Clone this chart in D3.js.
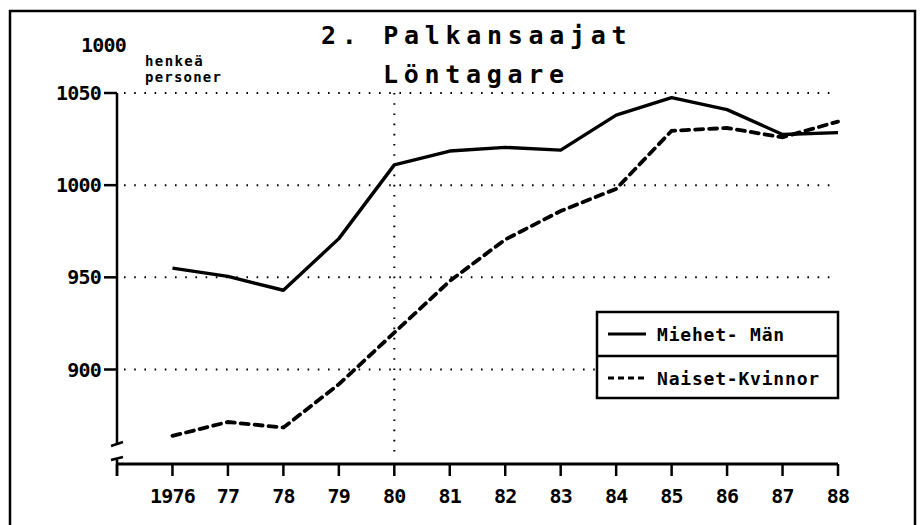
<!DOCTYPE html>
<html>
<head>
<meta charset="utf-8">
<script src="https://cdn.jsdelivr.net/npm/d3@7"></script>
<style>
  body { margin: 0; background: #fff; }
  svg text { font-family: "DejaVu Sans Mono", monospace; fill: #000; }
</style>
</head>
<body>
<div id="container"></div>
<script>
// values (1000 persons)
var years = [1976, 1977, 1978, 1979, 1980, 1981, 1982, 1983, 1984, 1985, 1986, 1987, 1988];
var men   = [955, 950.5, 943, 971, 1011, 1018.5, 1020.5, 1019, 1038, 1047.5, 1041, 1027.5, 1028.5];
var women = [864, 871.5, 868.5, 892, 920, 948, 970.5, 986, 998, 1029.5, 1031, 1026, 1034.5];
var xTickYears = [1975, 1976, 1977, 1978, 1979, 1980, 1981, 1982, 1983, 1984, 1985, 1986, 1987, 1988];
var xTickLabels = ["", "1976", "77", "78", "79", "80", "81", "82", "83", "84", "85", "86", "87", "88"];
var yTicks = [900, 950, 1000, 1050];
var legendLabels = ["Miehet- Män", "Naiset-Kvinnor"];

var W = 921, H = 525;
var svg = d3.select("#container").append("svg")
  .attr("width", W).attr("height", H);

var x = d3.scaleLinear().domain([1975, 1988]).range([117, 838]);
var y = d3.scaleLinear().domain([900, 1050]).range([369.5, 93]);
var axisY = 464;

// outer frame
svg.append("path")
  .attr("d", "M10,530 L10,11 L915,11 L915,530")
  .attr("fill", "none").attr("stroke", "#000").attr("stroke-width", 2.5);

// dotted grid
svg.selectAll("line.grid").data(yTicks).enter().append("line")
  .attr("class", "grid")
  .attr("x1", 124).attr("x2", x(1988))
  .attr("y1", function(d) { return y(d); }).attr("y2", function(d) { return y(d); })
  .attr("stroke", "#000").attr("stroke-width", 2)
  .attr("stroke-dasharray", "1.6,8.6");
svg.append("line")
  .attr("x1", x(1980)).attr("x2", x(1980))
  .attr("y1", y(1050)).attr("y2", axisY - 8)
  .attr("stroke", "#000").attr("stroke-width", 2)
  .attr("stroke-dasharray", "1.6,8.6");

// y axis with break
svg.append("line")
  .attr("x1", x(1975)).attr("x2", x(1975))
  .attr("y1", y(1050)).attr("y2", 443)
  .attr("stroke", "#000").attr("stroke-width", 2.5);
svg.append("path")
  .attr("d", "M111,446 L123,442")
  .attr("stroke", "#000").attr("stroke-width", 2.5).attr("fill", "none");
svg.append("path")
  .attr("d", "M111,460 L123,457 M117,458 L117,476")
  .attr("stroke", "#000").attr("stroke-width", 2.5).attr("fill", "none");
svg.selectAll("line.ytick").data(yTicks).enter().append("line")
  .attr("class", "ytick")
  .attr("x1", 104).attr("x2", x(1975))
  .attr("y1", function(d) { return y(d); }).attr("y2", function(d) { return y(d); })
  .attr("stroke", "#000").attr("stroke-width", 2.5);
svg.selectAll("text.ylab").data(yTicks).enter().append("text")
  .attr("class", "ylab")
  .attr("x", 101).attr("y", function(d) { return y(d) + 7; })
  .attr("text-anchor", "end")
  .attr("font-size", 20).attr("font-weight", "bold").attr("letter-spacing", -0.8)
  .text(function(d) { return d; });

// x axis
svg.append("line")
  .attr("x1", x(1975)).attr("x2", x(1988))
  .attr("y1", axisY).attr("y2", axisY)
  .attr("stroke", "#000").attr("stroke-width", 3);
svg.selectAll("line.xtick").data(xTickYears).enter().append("line")
  .attr("class", "xtick")
  .attr("x1", function(d) { return x(d); }).attr("x2", function(d) { return x(d); })
  .attr("y1", axisY).attr("y2", axisY + 12)
  .attr("stroke", "#000").attr("stroke-width", 2.5);
svg.selectAll("text.xlab").data(xTickYears).enter().append("text")
  .attr("class", "xlab")
  .attr("x", function(d) { return x(d); }).attr("y", 503)
  .attr("text-anchor", "middle")
  .attr("font-size", 20).attr("font-weight", "bold").attr("letter-spacing", -0.8)
  .text(function(d, i) { return xTickLabels[i]; });

// series
var line = d3.line()
  .x(function(d) { return x(d[0]); })
  .y(function(d) { return y(d[1]); });
svg.append("path")
  .datum(d3.zip(years, women))
  .attr("d", line)
  .attr("fill", "none").attr("stroke", "#000").attr("stroke-width", 3.8)
  .attr("stroke-dasharray", "8,6").attr("stroke-linecap", "round");
svg.append("path")
  .datum(d3.zip(years, men))
  .attr("d", line)
  .attr("fill", "none").attr("stroke", "#000").attr("stroke-width", 3.4)
  .attr("stroke-linejoin", "round");

// titles
svg.append("text").attr("x", 321).attr("y", 44)
  .attr("font-size", 25).attr("font-weight", "bold").attr("letter-spacing", 5.7)
  .text("2. Palkansaajat");
svg.append("text").attr("x", 383).attr("y", 83)
  .attr("font-size", 25).attr("font-weight", "bold").attr("letter-spacing", 5.7)
  .text("Löntagare");
svg.append("text").attr("x", 81).attr("y", 52)
  .attr("font-size", 20).attr("font-weight", "bold").attr("letter-spacing", -0.8)
  .text("1000");
svg.append("text").attr("x", 145).attr("y", 66)
  .attr("font-size", 14).attr("font-weight", "bold").attr("letter-spacing", 1.4)
  .text("henkeä");
svg.append("text").attr("x", 145).attr("y", 82)
  .attr("font-size", 14).attr("font-weight", "bold").attr("letter-spacing", 1.2)
  .text("personer");

// legend
var lg = svg.append("g");
lg.append("rect")
  .attr("x", 597).attr("y", 312).attr("width", 241).attr("height", 86)
  .attr("fill", "#fff").attr("stroke", "#000").attr("stroke-width", 2.5);
lg.append("line")
  .attr("x1", 597).attr("x2", 838).attr("y1", 356).attr("y2", 356)
  .attr("stroke", "#000").attr("stroke-width", 2.5);
lg.selectAll("line.key").data(legendLabels).enter().append("line")
  .attr("class", "key")
  .attr("x1", 608).attr("x2", 646)
  .attr("y1", function(d, i) { return 334 + i * 44; })
  .attr("y2", function(d, i) { return 334 + i * 44; })
  .attr("stroke", "#000").attr("stroke-width", 3)
  .attr("stroke-dasharray", function(d, i) { return i ? "6,4" : null; });
lg.selectAll("text.key").data(legendLabels).enter().append("text")
  .attr("class", "key")
  .attr("x", 657).attr("y", function(d, i) { return 341 + i * 44; })
  .attr("font-size", 18).attr("font-weight", "bold").attr("letter-spacing", 0.8)
  .text(function(d) { return d; });
</script>
</body>
</html>
